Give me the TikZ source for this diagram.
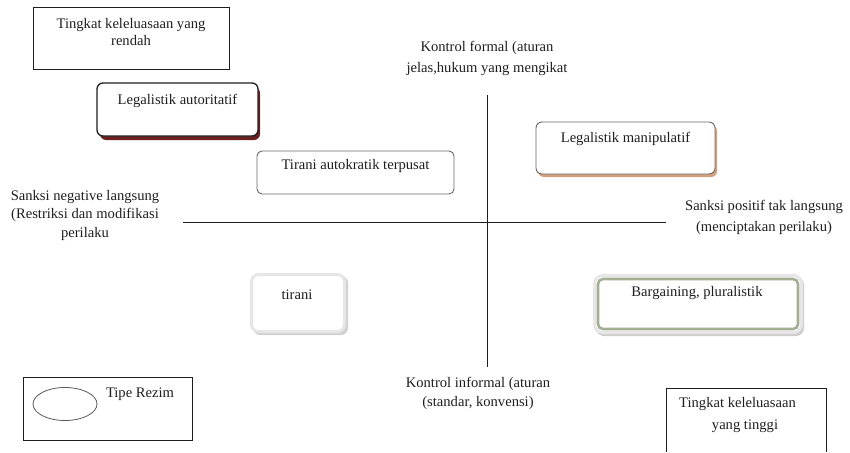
\documentclass[tikz,border=0pt]{standalone}
\usepackage{fontspec}
\setmainfont{Liberation Serif}
\usetikzlibrary{shapes.geometric}
\definecolor{ink}{HTML}{1E1E1E}
\definecolor{darkshadow}{HTML}{6B1F1F}
\definecolor{tanshadow}{HTML}{D4A07C}
\definecolor{olive}{HTML}{A4AE92}
\definecolor{softgray}{HTML}{E6E6E6}
\tikzset{
  every node/.style={text=ink, font=\fontsize{14.6}{17.5}\selectfont},
  lbl/.style={align=center, inner sep=0pt},
  axis/.style={draw=ink, line width=0.9pt},
  plainbox/.style={draw=ink, line width=0.9pt},
}
\begin{document}
\begin{tikzpicture}[x=1pt, y=-1pt]
\useasboundingbox (0,0) rectangle (850,452);

% quadrant axes
\coordinate (hl) at (183,222);
\coordinate (hr) at (666,222);
\coordinate (vt) at (487,95);
\coordinate (vb) at (487,367);
\draw[axis] (hl) -- (hr);
\draw[axis] (vt) -- (vb);

% axis labels
\node[lbl, font=\fontsize{14.6}{21}\selectfont] (top) at (487,58.5) {Kontrol formal (aturan\\jelas,hukum yang mengikat};
\node[lbl, font=\fontsize{14.6}{19}\selectfont] (bot) at (478,393.5) {Kontrol informal (aturan\\(standar, konvensi)};
\node[lbl, font=\fontsize{14.6}{18.5}\selectfont] (left) at (85,215) {Sanksi negative langsung\\(Restriksi dan modifikasi\\perilaku};
\node[lbl, font=\fontsize{14.6}{21.5}\selectfont] (right) at (764,217.5) {Sanksi positif tak langsung\\(menciptakan perilaku)};

% legend: low discretion
\draw[plainbox] (33,7) rectangle (229,69);
\node[lbl] (low) at (131,32) {Tingkat keleluasaan yang\\rendah};

% legend: high discretion (open at the bottom)
\draw[plainbox] (666,452) -- (666,388) -- (826,388) -- (826,452);
\node[lbl, align=left, anchor=west] (high1) at (679,404) {Tingkat keleluasaan};
\node[lbl] (high2) at (745,426.5) {yang tinggi};

% legend: regime type
\draw[plainbox] (23,377) rectangle (192,440);
\draw[black!65, line width=0.8pt] (65,404) ellipse (32 and 16.5);
\node[lbl] (tipe) at (140,394.5) {Tipe Rezim};

% regime boxes
% Legalistik autoritatif
\fill[darkshadow, rounded corners=6pt] (100,87) rectangle (260,140);
\draw[ink, fill=white, line width=1.3pt, rounded corners=6pt] (97,83) rectangle (258,136);
\node[lbl] (la) at (177.5,101) {Legalistik autoritatif};

% Tirani autokratik terpusat
\draw[black!60, fill=white, line width=0.9pt, rounded corners=5pt] (257,151) rectangle (454,194);
\node[lbl] (tat) at (355.5,166) {Tirani autokratik terpusat};

% Legalistik manipulatif
\fill[tanshadow, rounded corners=6pt] (538,125) rectangle (717,177);
\draw[black!60, fill=white, line width=0.9pt, rounded corners=6pt] (536,122) rectangle (715,174);
\node[lbl] (lm) at (625.5,139) {Legalistik manipulatif};

% tirani
\fill[black!18, rounded corners=7pt] (253,276) rectangle (348,335);
\draw[softgray, fill=white, line width=3pt, rounded corners=7pt] (251.5,274.5) rectangle (344.5,331.5);
\node[lbl] (ti) at (297,295) {tirani};

% Bargaining, pluralistik
\fill[black!20, rounded corners=8pt] (596,277) rectangle (804,336);
\draw[softgray, fill=white, line width=3pt, rounded corners=8pt] (594.5,275.5) rectangle (801.5,332.5);
\draw[olive, line width=2.6pt, rounded corners=5pt] (598,279) rectangle (798,329);
\node[lbl] (bp) at (697,293) {Bargaining, pluralistik};
\end{tikzpicture}
\end{document}
